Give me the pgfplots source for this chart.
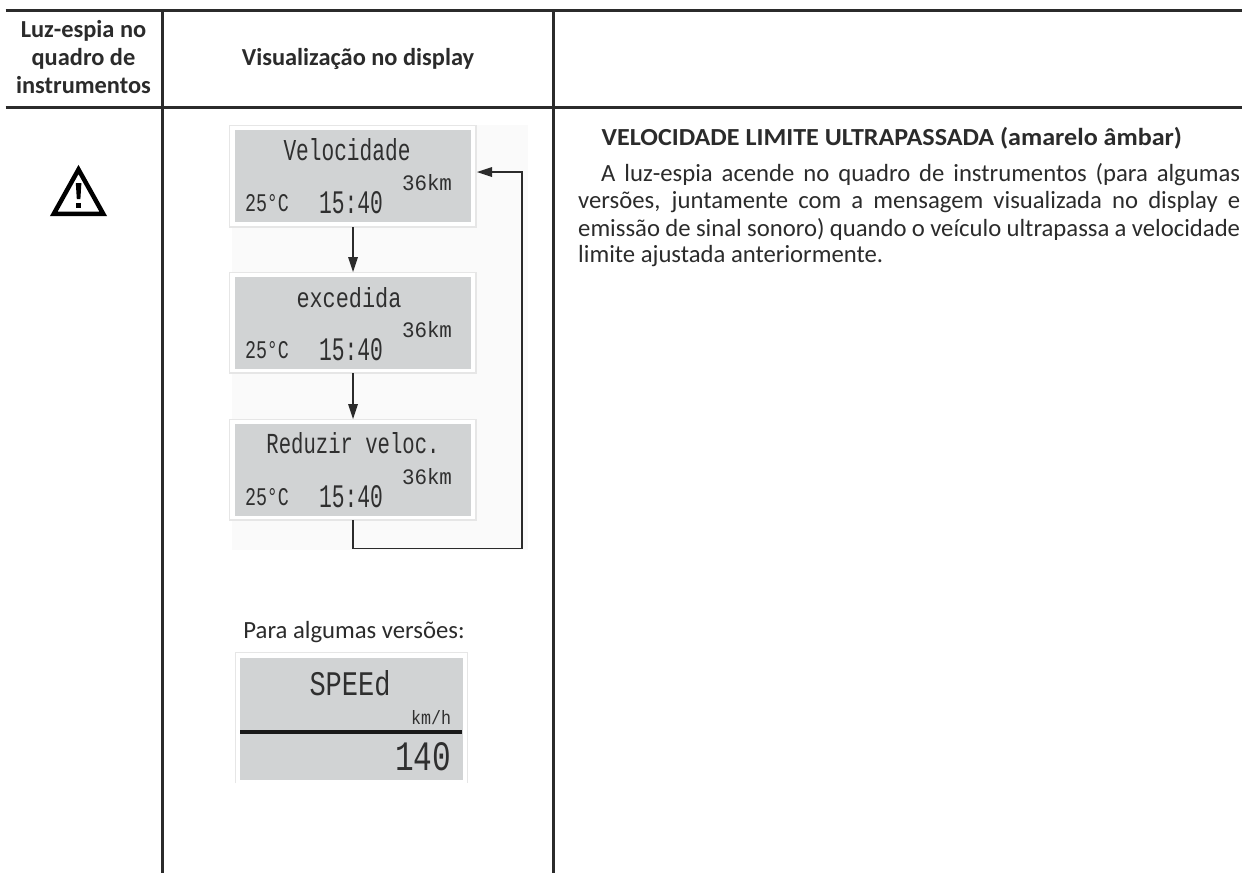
\documentclass[border=0pt]{standalone}
\usepackage{pgfplots}
\pgfplotsset{compat=1.18}
\usepackage{fontspec}
\setmainfont{Carlito}
\newfontfamily\lcd{Liberation Mono}
\definecolor{ink}{HTML}{2B2B2B}
\definecolor{lcdbg}{HTML}{D1D3D4}
\definecolor{lcdedge}{HTML}{E6E6E6}
\definecolor{lcdink}{HTML}{2F2F2F}
\newcommand{\lcdt}[3]{\resizebox{#1pt}{#2pt}{\color{lcdink}\lcd\fontsize{20}{20}\selectfont #3}}
\newcommand{\hd}{\fontsize{24.4}{24.4}\selectfont\bfseries\color{ink}}
\newcommand{\hdr}{\fontsize{24.5}{24.5}\selectfont\bfseries\color{ink}}
\newcommand{\bd}{\fontsize{24.7}{24.7}\selectfont\color{ink}}
\begin{document}
\begin{tikzpicture}
\begin{axis}[
  scale only axis, width=1242pt, height=873pt,
  xmin=0, xmax=1242, ymin=0, ymax=873, y dir=reverse,
  hide axis, clip=true,
  every axis plot/.append style={no markers},
]
% page background, which fixes the picture's extent
\addplot[fill=white,draw=none] coordinates {(0,0)(1242,0)(1242,873)(0,873)} -- cycle;
% faint background of the flow picture
\addplot[fill=black!2,draw=none] coordinates {(232,125)(528,125)(528,550)(232,550)} -- cycle;
% table rules
\addplot[ink,line width=3pt] coordinates {(5.5,10.5)(1242,10.5)};
\addplot[ink,line width=3pt] coordinates {(5.5,107.5)(1242,107.5)};
\addplot[ink,line width=3pt] coordinates {(162,10)(162,873)};
\addplot[ink,line width=3pt] coordinates {(553,10)(553,873)};
% display boxes
\addplot[fill=white,draw=lcdedge,line width=1.2pt] coordinates {(229.5,125.5)(476,125.5)(476,227)(229.5,227)} -- cycle;
\addplot[fill=lcdbg,draw=none] coordinates {(235,130)(471,130)(471,222)(235,222)} -- cycle;
\addplot[fill=white,draw=lcdedge,line width=1.2pt] coordinates {(229.5,272.5)(476,272.5)(476,373)(229.5,373)} -- cycle;
\addplot[fill=lcdbg,draw=none] coordinates {(235,277)(471,277)(471,369)(235,369)} -- cycle;
\addplot[fill=white,draw=lcdedge,line width=1.2pt] coordinates {(229.5,419.5)(476,419.5)(476,520)(229.5,520)} -- cycle;
\addplot[fill=lcdbg,draw=none] coordinates {(235,424)(471,424)(471,516)(235,516)} -- cycle;
\addplot[lcdedge,line width=1.2pt] coordinates {(235.5,783)(235.5,652.5)(467.5,652.5)(467.5,783)};
\addplot[fill=lcdbg,draw=none] coordinates {(240,658)(463,658)(463,780)(240,780)} -- cycle;
\addplot[black!90,line width=4pt] coordinates {(240,732)(462,732)};
% connectors
\addplot[ink,line width=1.3pt] coordinates {(353,227)(353,262)};
\addplot[fill=ink,draw=none] coordinates {(348,257)(358,257)(353,272)} -- cycle;
\addplot[ink,line width=1.3pt] coordinates {(353,373)(353,409)};
\addplot[fill=ink,draw=none] coordinates {(348,404)(358,404)(353,419)} -- cycle;
\addplot[ink,line width=1.8pt] coordinates {(353,520)(353,548.5)(522,548.5)(522,172)(486,172)};
\addplot[fill=ink,draw=none] coordinates {(492,167)(492,177)(477,172)} -- cycle;
% warning triangle
\addplot[black,line width=4.5pt,line join=miter] coordinates {(78.5,169.5)(53.8,213.8)(103.2,213.8)} -- cycle;
\addplot[fill=black,draw=none] coordinates {(75.8,183)(81.4,183)(80.4,199)(76.8,199)} -- cycle;
\addplot[fill=black,draw=none] coordinates {(76.2,203)(80.9,203)(80.9,208)(76.2,208)} -- cycle;
% header
\node[inner sep=0pt] at (axis cs:83.5,31) {\hd Luz-espia no};
\node[inner sep=0pt] at (axis cs:83.5,59) {\hd quadro de};
\node[inner sep=0pt] at (axis cs:83.5,85) {\hd instrumentos};
\node[inner sep=0pt] at (axis cs:358,59) {\hd Visualização no display};
% right text
\node[anchor=base west,inner sep=0pt] at (axis cs:601.5,145) {\scalebox{1.065}[1]{\hdr VELOCIDADE LIMITE ULTRAPASSADA (amarelo âmbar)}};
\node[anchor=base west,inner sep=0pt] at (axis cs:601,181) {\makebox[639pt][s]{\bd A luz-espia acende no quadro de instrumentos (para algumas}};
\node[anchor=base west,inner sep=0pt] at (axis cs:578,208) {\makebox[662pt][s]{\bd versões, juntamente com a mensagem visualizada no display e}};
\node[anchor=base west,inner sep=0pt] at (axis cs:578,236) {\makebox[662pt][s]{\bd emissão de sinal sonoro) quando o veículo ultrapassa a velocidade}};
\node[anchor=base west,inner sep=0pt] at (axis cs:578,262.5) {\bd limite ajustada anteriormente.};
\node[inner sep=0pt] at (axis cs:354,632) {\bd Para algumas versões:};
% display 1
\node[inner sep=0pt] at (axis cs:347,150) {\lcdt{127}{22}{Velocidade}};
\node[inner sep=0pt] at (axis cs:427,183) {\lcdt{50}{16}{36km}};
\node[inner sep=0pt] at (axis cs:267,203) {\lcdt{44}{17}{25°C}};
\node[inner sep=0pt] at (axis cs:351,203) {\lcdt{64}{22}{15:40}};
% display 2
\node[inner sep=0pt] at (axis cs:349,298) {\lcdt{105}{20}{excedida}};
\node[inner sep=0pt] at (axis cs:427,330) {\lcdt{50}{16}{36km}};
\node[inner sep=0pt] at (axis cs:267,350) {\lcdt{44}{17}{25°C}};
\node[inner sep=0pt] at (axis cs:351,350) {\lcdt{64}{22}{15:40}};
% display 3
\node[inner sep=0pt] at (axis cs:353,443) {\lcdt{173}{21}{Reduzir veloc.}};
\node[inner sep=0pt] at (axis cs:427,477) {\lcdt{50}{16}{36km}};
\node[inner sep=0pt] at (axis cs:267,497) {\lcdt{44}{17}{25°C}};
\node[inner sep=0pt] at (axis cs:351,497) {\lcdt{64}{22}{15:40}};
% display 4
\node[inner sep=0pt] at (axis cs:350,683) {\lcdt{81}{25}{SPEEd}};
\node[inner sep=0pt] at (axis cs:431,718) {\lcdt{40}{14}{km/h}};
\node[inner sep=0pt] at (axis cs:423,757) {\lcdt{56}{28}{140}};
\end{axis}
\end{tikzpicture}
\end{document}
